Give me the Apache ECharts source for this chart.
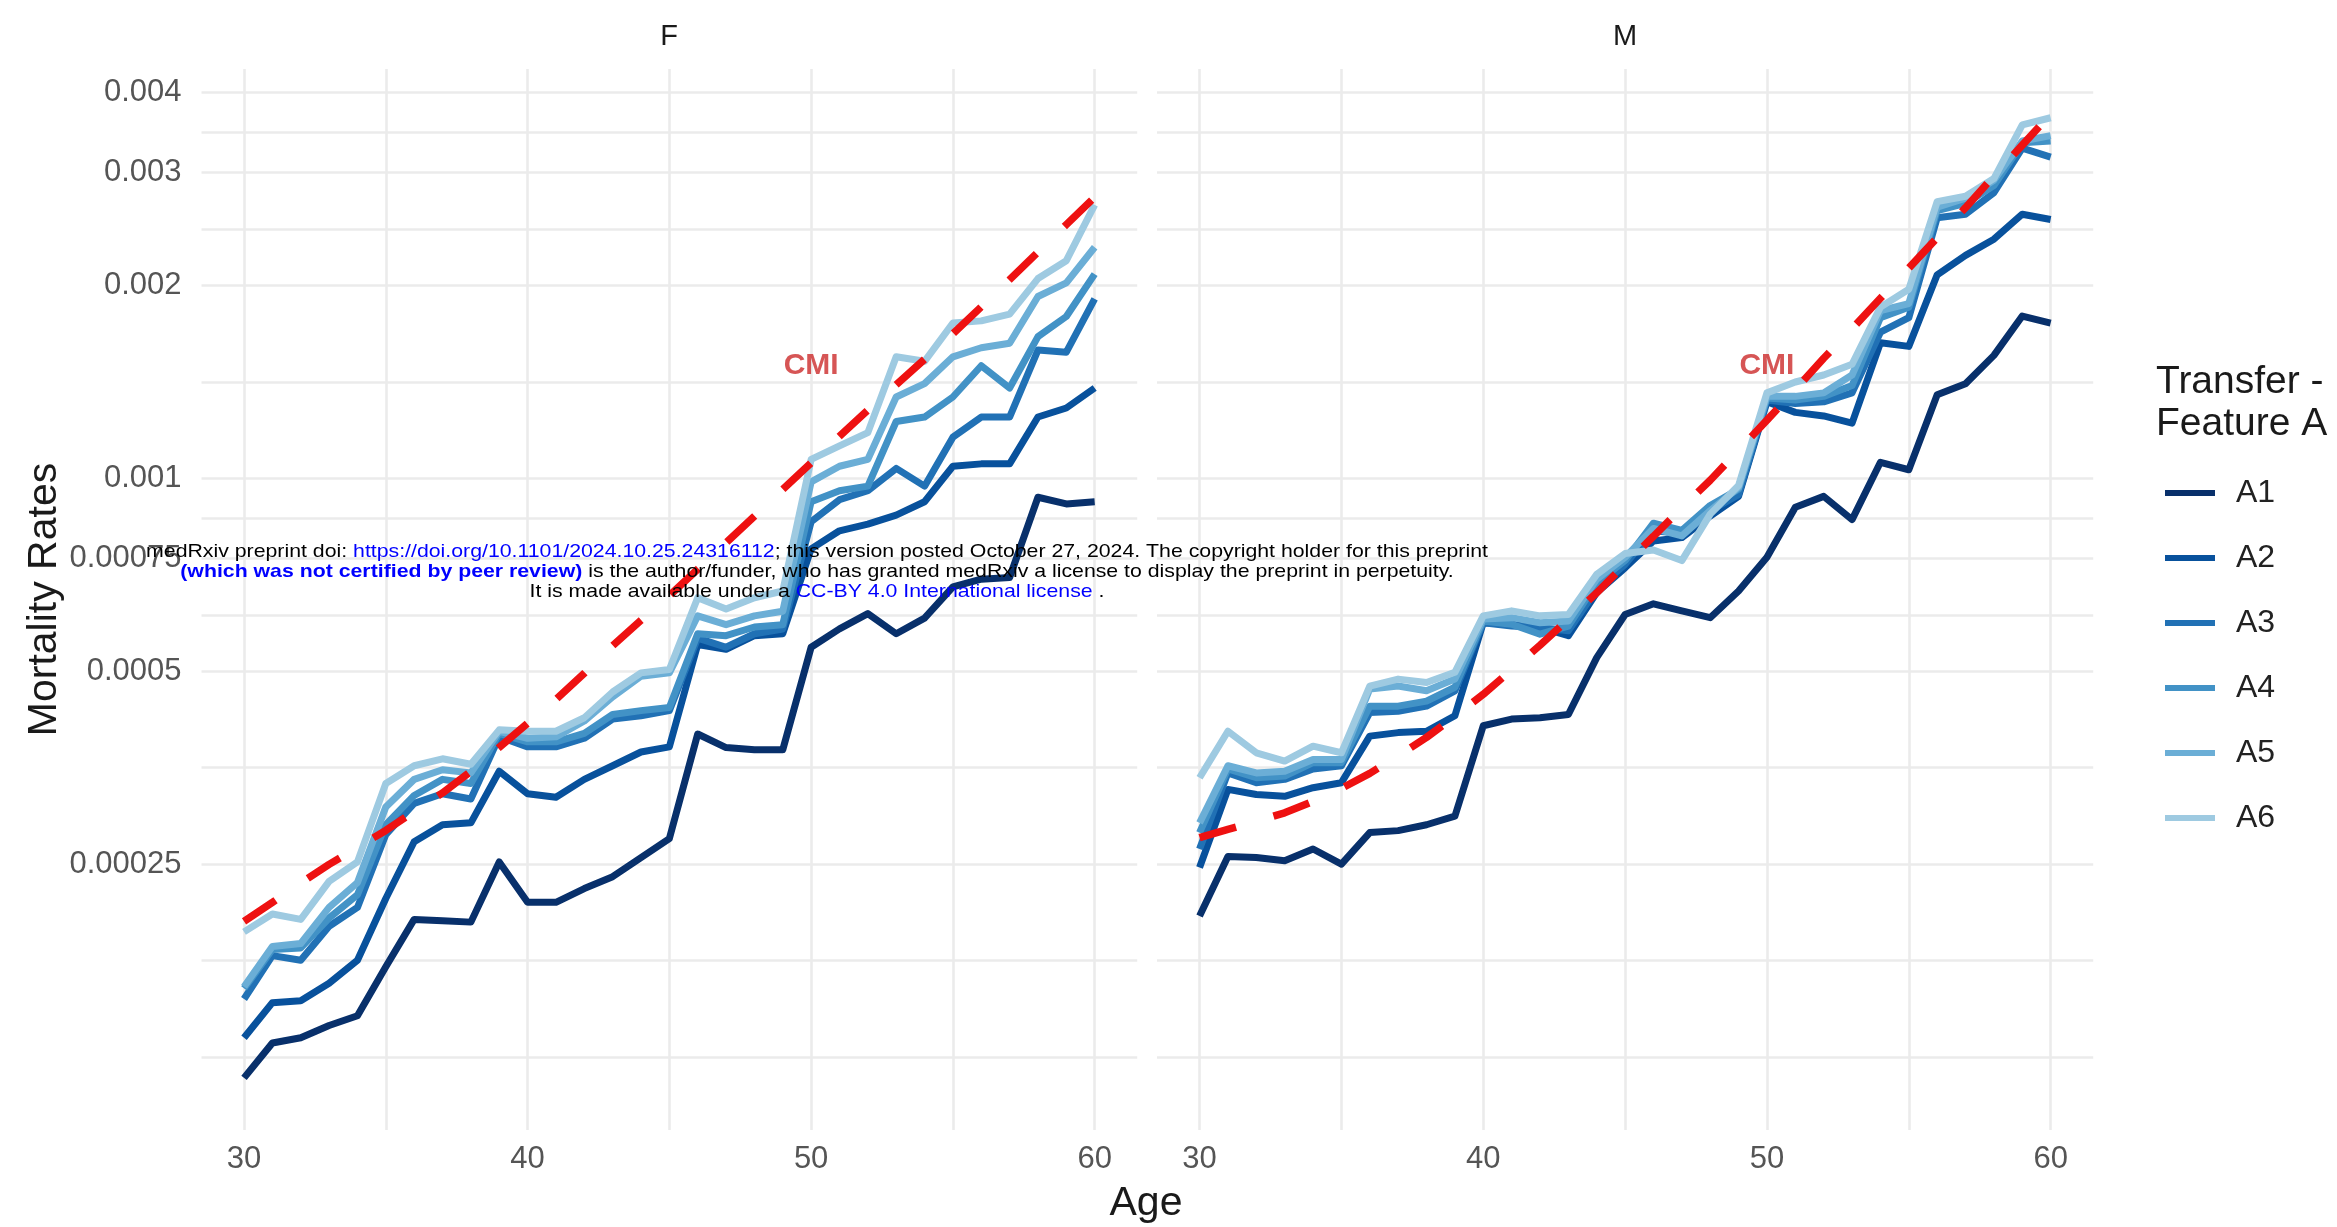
<!DOCTYPE html>
<html><head><meta charset="utf-8">
<script src="https://cdn.jsdelivr.net/npm/echarts@6/dist/echarts.min.js"></script>
<style>html,body{margin:0;padding:0;background:#fff}#c{width:2337px;height:1227px}</style>
</head><body><div id="c"></div>
<script>
// ---------------- data ----------------
const ages = [30,31,32,33,34,35,36,37,38,39,40,41,42,43,44,45,46,47,48,49,50,51,52,53,54,55,56,57,58,59,60];
const seriesNames = ['A1','A2','A3','A4','A5','A6'];

const femaleA1 = [0.000116,0.0001315,0.000134,0.00014,0.000145,0.000173,0.000205,0.000204,0.000203,0.000252,0.000218,0.000218,0.000229,0.000239,0.000256,0.000274,0.000399,0.00038,0.000377,0.000377,0.000545,0.000582,0.000615,0.000572,0.000605,0.000677,0.000696,0.0007,0.000934,0.000912,0.000919];
const femaleA2 = [0.000134,0.000152,0.000153,0.000163,0.000177,0.000221,0.000271,0.000288,0.00029,0.000349,0.000322,0.000318,0.000339,0.000356,0.000374,0.000381,0.00055,0.000541,0.000568,0.000572,0.000776,0.000828,0.000848,0.000876,0.000919,0.001044,0.001053,0.001053,0.001246,0.001287,0.001383];
const femaleA3 = [0.000154,0.00018,0.000177,0.0002,0.000214,0.000278,0.000311,0.000322,0.000316,0.000395,0.000381,0.000381,0.000393,0.000421,0.000426,0.000434,0.000563,0.000545,0.000572,0.000582,0.000855,0.000926,0.000956,0.001036,0.000972,0.001159,0.001246,0.001246,0.001585,0.001573,0.001905];
const femaleA4 = [0.00016,0.000184,0.000185,0.000206,0.000224,0.000288,0.00032,0.000339,0.000334,0.0004,0.000388,0.000388,0.0004,0.000428,0.000434,0.000439,0.000572,0.000568,0.000586,0.000591,0.000919,0.000956,0.000972,0.001226,0.001246,0.001339,0.001498,0.001383,0.001663,0.001788,0.002082];
const femaleA5 = [0.000161,0.000186,0.000188,0.000214,0.000234,0.000307,0.000339,0.000351,0.000347,0.000403,0.000393,0.000395,0.000418,0.000456,0.000491,0.000497,0.00061,0.000591,0.00061,0.00062,0.000987,0.001044,0.00107,0.001339,0.001405,0.001547,0.001598,0.001624,0.001921,0.002017,0.002293];
const femaleA6 = [0.000196,0.000209,0.000205,0.000235,0.000252,0.000334,0.000356,0.000365,0.000358,0.000405,0.000403,0.000403,0.000423,0.000464,0.000497,0.000503,0.000651,0.000625,0.000651,0.000667,0.00107,0.001123,0.001178,0.001547,0.001522,0.001746,0.00176,0.001803,0.002049,0.002185,0.00267];
const femaleCMI = [0.0002035,0.0002179,0.0002337,0.0002498,0.0002655,0.0002822,0.0003022,0.0003229,0.0003489,0.0003804,0.0004147,0.0004519,0.0004962,0.000548,0.0006003,0.0006558,0.0007211,0.0007934,0.0008723,0.0009612,0.001057,0.001163,0.001277,0.001399,0.001533,0.00168,0.001851,0.002041,0.002253,0.002487,0.002745];

const maleA1 = [0.0002075,0.000257,0.000256,0.000253,0.000264,0.00025,0.00028,0.000282,0.000288,0.000297,0.000411,0.000421,0.000423,0.000428,0.000525,0.000613,0.000637,0.000621,0.000606,0.000667,0.000753,0.000901,0.000937,0.000862,0.001059,0.001031,0.00135,0.001404,0.001555,0.001791,0.001746];
const maleA2 = [0.000247,0.000327,0.000321,0.000319,0.000329,0.000335,0.000396,0.000401,0.000403,0.000426,0.000595,0.000592,0.000585,0.000568,0.000663,0.000725,0.000798,0.000808,0.000873,0.000937,0.001316,0.001267,0.001251,0.001219,0.001627,0.001606,0.002077,0.002227,0.00236,0.002582,0.002533];
const maleA3 = [0.000264,0.000347,0.000335,0.000339,0.000352,0.000356,0.000431,0.000433,0.000441,0.000466,0.000595,0.000588,0.000585,0.000578,0.000671,0.000734,0.000829,0.000819,0.00089,0.000943,0.001325,0.001308,0.001316,0.001359,0.00169,0.00178,0.002549,0.002582,0.002789,0.003274,0.00317];
const maleA4 = [0.00028,0.000352,0.000341,0.000343,0.00036,0.00036,0.000441,0.000441,0.000449,0.000472,0.000599,0.000592,0.000571,0.000588,0.000687,0.000744,0.000851,0.000829,0.000907,0.000961,0.001334,0.001325,0.001342,0.001395,0.00178,0.001849,0.002616,0.002684,0.002862,0.003337,0.003359];
const maleA5 = [0.00029,0.000356,0.000347,0.000349,0.000364,0.000364,0.000469,0.000474,0.000466,0.000486,0.000603,0.000606,0.000595,0.000599,0.000696,0.000753,0.000835,0.000813,0.00089,0.000967,0.001342,0.001342,0.001359,0.001449,0.001826,0.001873,0.002649,0.002736,0.002917,0.003359,0.003424];
const maleA6 = [0.000341,0.000403,0.000373,0.000362,0.000382,0.000373,0.000474,0.000486,0.00048,0.000498,0.00061,0.000621,0.00061,0.000613,0.000708,0.000763,0.000773,0.000744,0.000879,0.000974,0.001359,0.001413,0.001449,0.001506,0.001849,0.001972,0.002701,0.002754,0.002935,0.003559,0.003651];
const maleCMI = [0.0002749,0.0002833,0.0002916,0.0003006,0.0003132,0.0003282,0.0003464,0.0003688,0.0003942,0.0004252,0.0004602,0.0005025,0.0005488,0.0006025,0.0006627,0.0007341,0.0008118,0.0008995,0.000993,0.001106,0.001232,0.001374,0.001539,0.001711,0.001909,0.002127,0.002373,0.002643,0.00296,0.003309,0.003698];

const cmiLabelAge = 50;
const cmiLabelRate = 0.0015;

const yTickValues = [0.00025,0.0005,0.00075,0.001,0.002,0.003,0.004];
const yTickText   = ['0.00025','0.0005','0.00075','0.001','0.002','0.003','0.004'];
const yMinorValues = [0.000125,0.0001768,0.0003536,0.000612,0.000866,0.001414,0.002449,0.003464];
const xTickValues = [30,40,50,60];
const xMinorValues = [35,45,55];
const panels = ['F','M'];

// ---------------- style ----------------
const FONT = '"Liberation Sans", Arial, Helvetica, sans-serif';
const colors = ['#08306b','#08519c','#2171b5','#4292c6','#6baed6','#9ecae1'];
const gridColor = '#ebebeb';
const femaleSet = [femaleA1,femaleA2,femaleA3,femaleA4,femaleA5,femaleA6];
const maleSet = [maleA1,maleA2,maleA3,maleA4,maleA5,maleA6];

const pair = (vals) => ages.map((a,i) => [a, vals[i]]);
const yFmt = (v) => {
  for (let i = 0; i < yTickValues.length; i++) {
    if (Math.abs(v - yTickValues[i]) / yTickValues[i] < 1e-6) return yTickText[i];
  }
  return '';
};

const grids = [
  {left: 201.5, top: 69, width: 935.7, height: 1061, outerBoundsMode: 'none'},
  {left: 1157, top: 69, width: 936.2, height: 1061, outerBoundsMode: 'none'}
];

const xAxes = [0,1].map(i => ({
  type: 'value', gridIndex: i, min: 28.5, max: 61.5,
  axisLine: {show: false}, axisTick: {show: false}, splitLine: {show: false},
  axisLabel: {customValues: xTickValues, fontSize: 31, color: '#555', margin: 14, fontFamily: FONT}
}));
const yAxes = [0,1].map(i => ({
  type: 'log', logBase: 10, gridIndex: i, min: 0.0000962, max: 0.00435,
  axisLine: {show: false}, axisTick: {show: false}, splitLine: {show: false}, minorSplitLine: {show: false},
  axisLabel: i === 0 ? {customValues: yTickValues, formatter: yFmt, fontSize: 31, color: '#555', margin: 20, fontFamily: FONT} : {show: false},
  name: i === 0 ? 'Mortality Rates' : '',
  nameLocation: 'middle', nameRotate: 90, nameGap: 112,
  nameTextStyle: {fontSize: 41, color: '#1a1a1a', fontFamily: FONT}
}));

const series = [];
[0,1].forEach(p => {
  const gl = [];
  xTickValues.concat(xMinorValues).forEach(v => gl.push({xAxis: v}));
  yTickValues.concat(yMinorValues).forEach(v => gl.push({yAxis: v}));
  series.push({
    type: 'line', name: 'grid' + p, xAxisIndex: p, yAxisIndex: p, data: [], z: 1, silent: true,
    markLine: {silent: true, symbol: 'none', z: 1, precision: 12, animation: false, label: {show: false},
      lineStyle: {color: gridColor, width: 2.6, type: 'solid'}, emphasis: {disabled: true}, data: gl}
  });
});
[0,1].forEach(p => {
  const set = p === 0 ? femaleSet : maleSet;
  set.forEach((vals, k) => {
    series.push({
      type: 'line', name: seriesNames[k], xAxisIndex: p, yAxisIndex: p,
      data: pair(vals), showSymbol: false, symbol: 'none', z: 2,
      lineStyle: {color: colors[k], width: 7, cap: 'butt', join: 'round'},
      itemStyle: {color: colors[k]}, emphasis: {disabled: true}
    });
  });
  series.push({
    type: 'line', name: 'CMI' + p, xAxisIndex: p, yAxisIndex: p,
    data: pair(p === 0 ? femaleCMI : maleCMI), showSymbol: false, symbol: 'none', z: 3, smooth: false,
    lineStyle: {color: '#ee1111', width: 7.5, type: [38, 39], cap: 'butt'},
    itemStyle: {color: '#ee1111'}, emphasis: {disabled: true}
  });
  series.push({
    type: 'scatter', name: 'CMIlabel' + p, xAxisIndex: p, yAxisIndex: p,
    data: [[cmiLabelAge, cmiLabelRate]], symbolSize: 1, z: 4,
    itemStyle: {color: 'rgba(0,0,0,0)'},
    label: {show: true, position: 'inside', formatter: 'CMI', fontSize: 30, fontWeight: 'bold', color: '#cc2b2b', fontFamily: FONT},
    emphasis: {disabled: true}
  });
});

const wmFont = 19;
const rich = {
  k: {fill: '#000', fontSize: wmFont, fontFamily: FONT},
  b: {fill: '#0000ff', fontSize: wmFont, fontFamily: FONT},
  bb: {fill: '#0000ff', fontSize: wmFont, fontFamily: FONT, fontWeight: 'bold'}
};
const wmLines = [
  '{k|medRxiv preprint doi: }{b|https://doi.org/10.1101/2024.10.25.24316112}{k|; this version posted October 27, 2024. The copyright holder for this preprint}',
  '{bb|(which was not certified by peer review)}{k| is the author/funder, who has granted medRxiv a license to display the preprint in perpetuity.}',
  '{k|It is made available under a }{b|CC-BY 4.0 International license}{k| .}'
];
const wmY = [552, 572, 592];

const graphic = [
  {type: 'text', x: 669, y: 37, z: 100, style: {text: panels[0], font: '29px ' + FONT, fill: '#1a1a1a', align: 'center', verticalAlign: 'middle'}},
  {type: 'text', x: 1625, y: 37, z: 100, style: {text: panels[1], font: '29px ' + FONT, fill: '#1a1a1a', align: 'center', verticalAlign: 'middle'}},
  {type: 'text', x: 1146, y: 1204, z: 100, style: {text: 'Age', font: '41px ' + FONT, fill: '#1a1a1a', align: 'center', verticalAlign: 'middle'}},
  {type: 'text', x: 2156, y: 361, z: 100, style: {text: 'Transfer -\nFeature A', font: '39px ' + FONT, lineHeight: 42, fill: '#1a1a1a', align: 'left', verticalAlign: 'top'}}
];
wmLines.forEach((t, i) => graphic.push({
  type: 'text', x: 817, y: wmY[i], z: 200, scaleX: 1.12,
  style: {text: t, rich: rich, font: wmFont + 'px ' + FONT, align: 'center', verticalAlign: 'middle'}
}));

const chart = echarts.init(document.getElementById('c'), null, {renderer: 'canvas'});
chart.setOption({
  backgroundColor: '#ffffff',
  animation: false,
  grid: grids,
  xAxis: xAxes,
  yAxis: yAxes,
  legend: {
    data: seriesNames, orient: 'vertical', left: 2160, top: 472,
    icon: 'rect', itemWidth: 50, itemHeight: 6, itemGap: 33, selectedMode: false,
    textStyle: {fontSize: 32, color: '#222', fontFamily: FONT, lineHeight: 30, padding: [0,0,0,16]}
  },
  series: series,
  graphic: graphic
});
</script></body></html>
